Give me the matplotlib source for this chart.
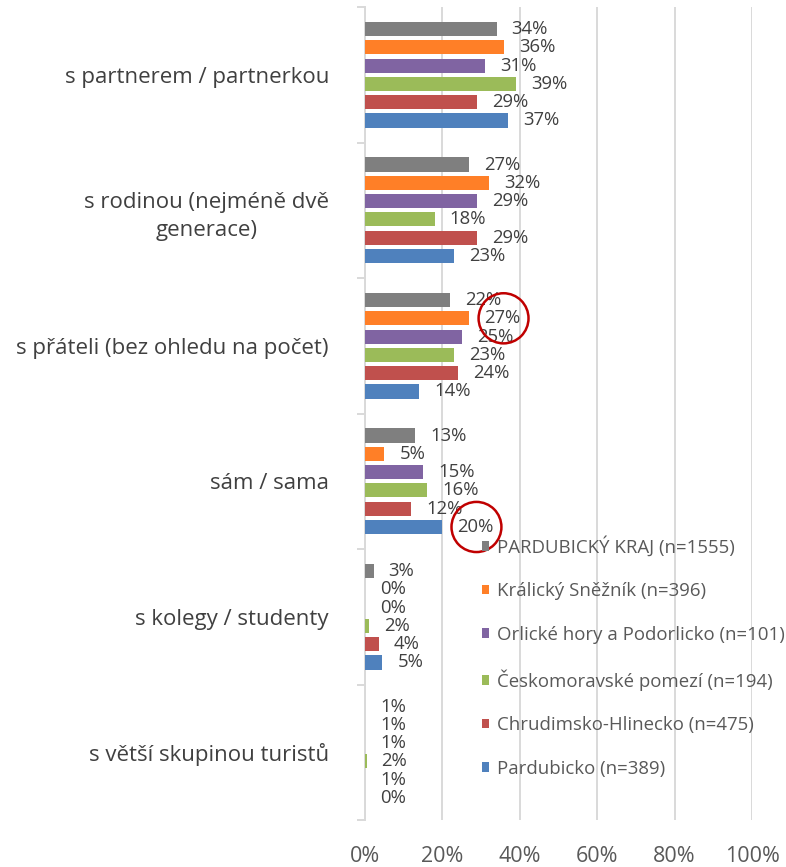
import numpy as np
import matplotlib.pyplot as plt
from matplotlib.patches import Ellipse

plt.rcParams['font.family'] = ['Open Sans', 'DejaVu Sans']

categories = ['s partnerem / partnerkou', 's rodinou (nejméně dvě\ngenerace)',
              's přáteli (bez ohledu na počet)', 'sám / sama',
              's kolegy / studenty', 's větší skupinou turistů']
series = ['PARDUBICKÝ KRAJ (n=1555)', 'Králický Sněžník (n=396)',
          'Orlické hory a Podorlicko (n=101)', 'Českomoravské pomezí (n=194)',
          'Chrudimsko-Hlinecko (n=475)', 'Pardubicko (n=389)']
colors = ['#7F7F7F', '#FF7F27', '#8064A2', '#9BBB59', '#C0504D', '#4F81BD']

# bar lengths per series (same order as categories)
kraj = [34, 27, 22, 13, 2.2, 0]
kralicky = [36, 32, 27, 5, 0, 0]
orlicke = [31, 29, 25, 15, 0, 0]
ceskomor = [39, 18, 23, 16, 1.0, 0.4]
chrudim = [29, 29, 24, 12, 3.5, 0]
pardubicko = [37, 23, 14, 20, 4.5, 0]
values = [kraj, kralicky, orlicke, ceskomor, chrudim, pardubicko]

# printed labels
labels = [['34%', '27%', '22%', '13%', '3%', '1%'],
          ['36%', '32%', '27%', '5%', '0%', '1%'],
          ['31%', '29%', '25%', '15%', '0%', '1%'],
          ['39%', '18%', '23%', '16%', '2%', '2%'],
          ['29%', '29%', '24%', '12%', '4%', '1%'],
          ['37%', '23%', '14%', '20%', '5%', '0%']]

# circled labels: (series, category)
circled = [(1, 2), (5, 3)]

W, H = 786, 867
fig = plt.figure(figsize=(W / 100, H / 100), dpi=100)
ax = fig.add_axes([365 / W, 1 - 820 / H, (752 - 365) / W, (820 - 7) / H])

y = np.arange(len(categories))
slot = 0.135
for j, (name, vals) in enumerate(zip(series, values)):
    ypos = y + (j - 2.5) * slot
    ax.barh(ypos, vals, height=0.104, color=colors[j], label=name, zorder=3)
    for yy, v, t in zip(ypos, vals, labels[j]):
        ax.annotate(t, (v, yy), xytext=(15, 0), textcoords='offset pixels',
                    ha='left', va='center', fontsize=13.3, color='#404040', zorder=4)

for j, i in circled:
    cy = i + (j - 2.5) * slot
    ax.add_patch(Ellipse((values[j][i] + 8.8, cy), 12.9, 0.37, fill=False,
                         edgecolor='#C00000', lw=1.8, zorder=5, clip_on=False))

ax.set_xlim(0, 100)
ax.set_ylim(len(categories) - 0.5, -0.5)
ax.set_xticks(np.arange(0, 101, 20))
ax.set_xticklabels([f'{v}%' for v in range(0, 101, 20)])
ax.grid(axis='x', color='#D9D9D9', lw=1.4, zorder=0)
ax.tick_params(axis='x', length=0, pad=19, labelsize=15.5, labelcolor='#595959')

ax.set_yticks(y)
ax.set_yticklabels(categories, ha='right', multialignment='center', linespacing=1.45)
ax.tick_params(axis='y', length=0, pad=26, labelsize=16, labelcolor='#404040')
ax.set_yticks(np.arange(-0.5, len(categories)), minor=True)
ax.tick_params(axis='y', which='minor', length=6, width=1.4, color='#D9D9D9')

for s in ['top', 'right', 'bottom']:
    ax.spines[s].set_visible(False)
ax.spines['left'].set_color('#D9D9D9')
ax.spines['left'].set_linewidth(1.4)

leg = ax.legend(loc='upper left', bbox_to_anchor=(482 / W, 1 - 536 / H),
                bbox_transform=fig.transFigure, frameon=False, fontsize=13.4,
                handlelength=0.38, handleheight=0.38, handletextpad=0.4,
                labelspacing=1.37, borderpad=0, borderaxespad=0)
for t in leg.get_texts():
    t.set_color('#595959')

fig.savefig('out.png', dpi=100)
